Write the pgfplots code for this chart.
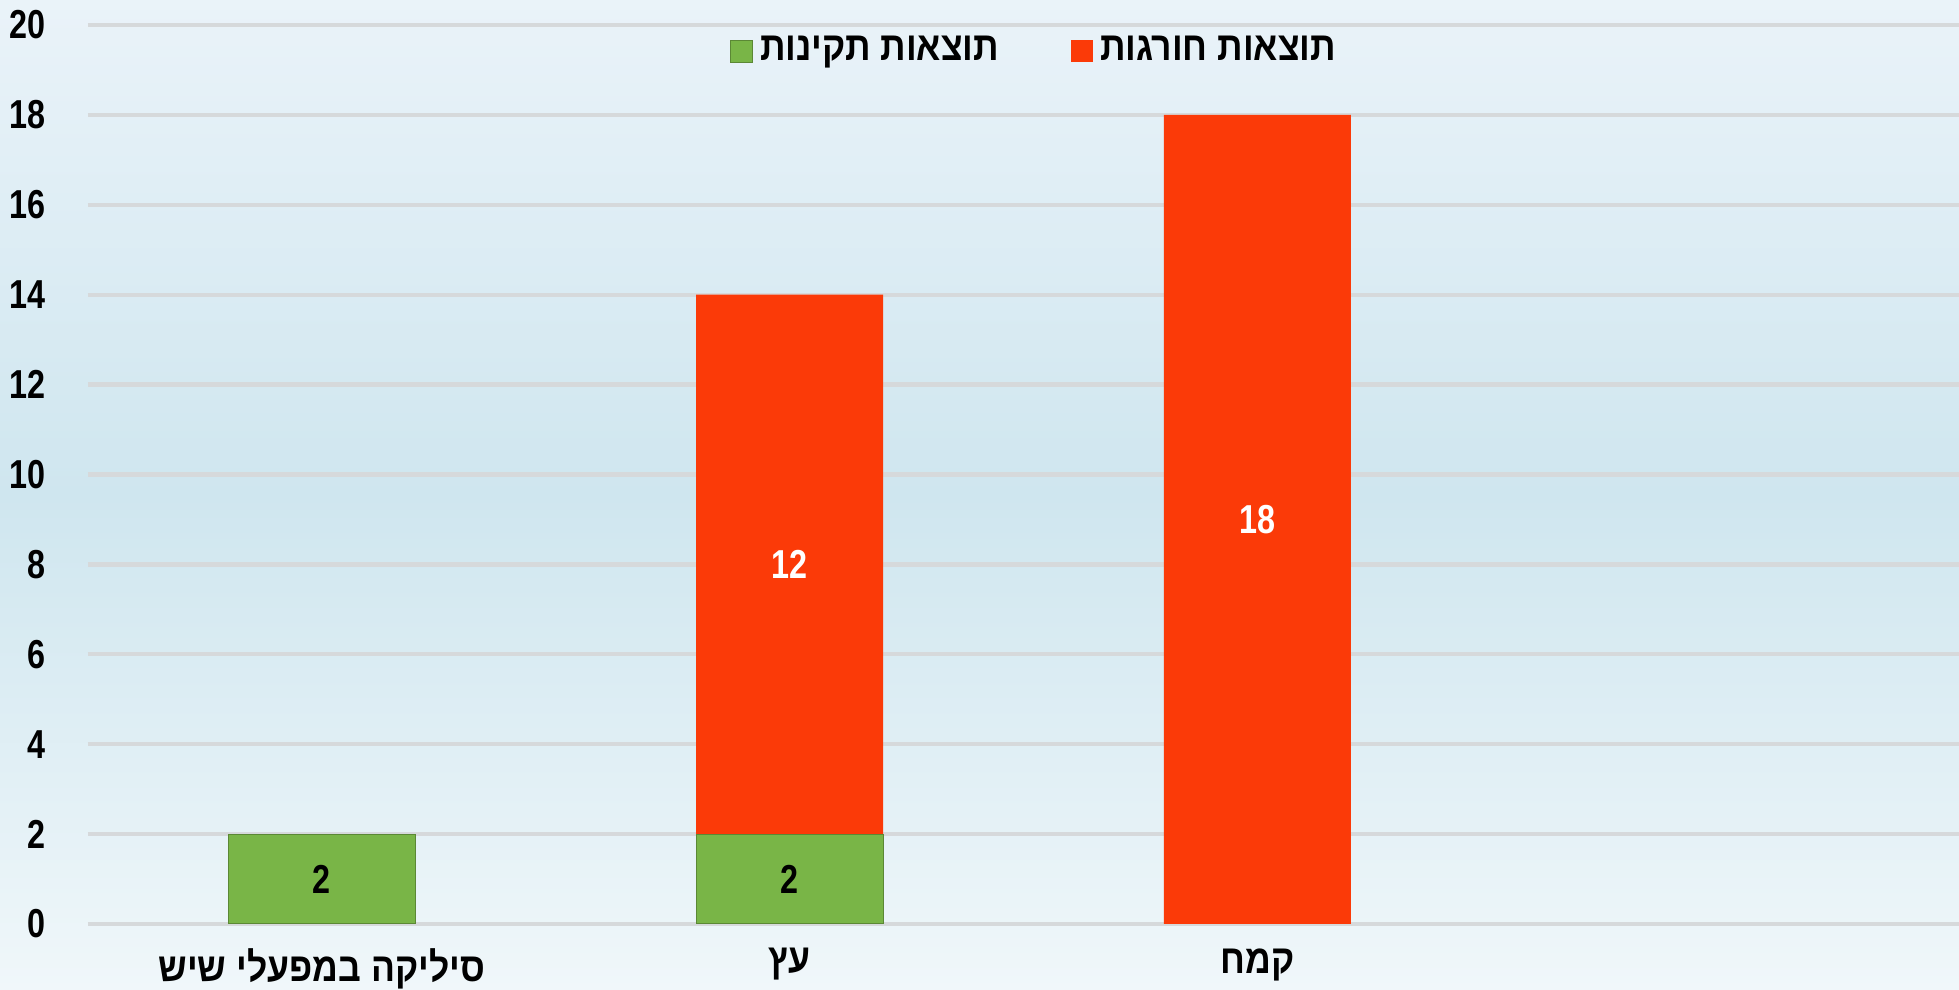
\documentclass[border=0pt]{standalone}
\usepackage{fontspec}
\setmainfont{Liberation Sans}[FakeStretch=0.8]
\newfontfamily\hebfont[Script=Hebrew,FakeStretch=0.88]{Liberation Sans}
\TeXXeTstate=1
\usepackage{pgfplots}
\pgfplotsset{compat=1.18}
\definecolor{bgtop}{HTML}{EAF3F9}
\definecolor{bgmid}{HTML}{CFE6EF}
\definecolor{bgbot}{HTML}{F0F7FA}
\definecolor{okgreen}{HTML}{79B547}
\definecolor{badred}{HTML}{FB3A08}
\definecolor{gridgray}{HTML}{D6D9DB}
\begin{document}
\begin{tikzpicture}
\useasboundingbox (0,0) rectangle (19.59cm,9.9cm);
\shade[top color=bgtop, bottom color=bgbot, middle color=bgmid] (0,0) rectangle (19.59cm,9.9cm);
\begin{axis}[at={(0.88cm,0.66cm)}, anchor=south west,
    scale only axis, width=18.71cm, height=8.99cm,
    ybar stacked, bar width=1.87cm,
    xmin=-0.5, xmax=3.5, ymin=0, ymax=20,
    xtick={0,1,2},
    xticklabels={{\hebfont\bfseries\beginR סיליקה במפעלי שיש\endR},{\hebfont\bfseries\beginR עץ\endR},{\hebfont\bfseries\beginR קמח\endR}},
    ytick={0,2,...,20},
    axis line style={draw=none},
    major tick length=0pt,
    ymajorgrids, grid style={gridgray, line width=1.2pt},
    /pgf/number format/assume math mode=true,
    tick label style={font=\fontsize{11.5}{13}\selectfont\bfseries},
    yticklabel style={xshift=-0.3cm},
    xticklabel style={yshift=-0.12cm},
    point meta=rawy,
    nodes near coords={\pgfmathfloatifflags{\pgfplotspointmeta}{0}{}{\pgfmathprintnumber{\pgfplotspointmeta}}},
    nodes near coords align=center,
    nodes near coords style={font=\fontsize{11.5}{13}\selectfont\bfseries},
    legend style={at={(0.507,0.971)}, anchor=center, draw=none, fill=none,
        legend columns=2, font=\fontsize{11.5}{13}\selectfont,
        /tikz/every even column/.append style={column sep=0.65cm}},
    legend image code/.code={\fill[#1] (0cm,-0.11cm) rectangle (0.22cm,0.11cm);},
]
\addplot[fill=okgreen, draw=okgreen!75!black, line width=0.3pt,
    every node near coord/.append style={text=black}]
    coordinates {(0,2) (1,2) (2,0)};
\addplot[fill=badred, draw=none,
    every node near coord/.append style={text=white}]
    coordinates {(0,0) (1,12) (2,18)};
\legend{{\hebfont\bfseries\beginR תוצאות תקינות\endR},{\hebfont\bfseries\beginR תוצאות חורגות\endR}}
\end{axis}
\end{tikzpicture}
\end{document}
